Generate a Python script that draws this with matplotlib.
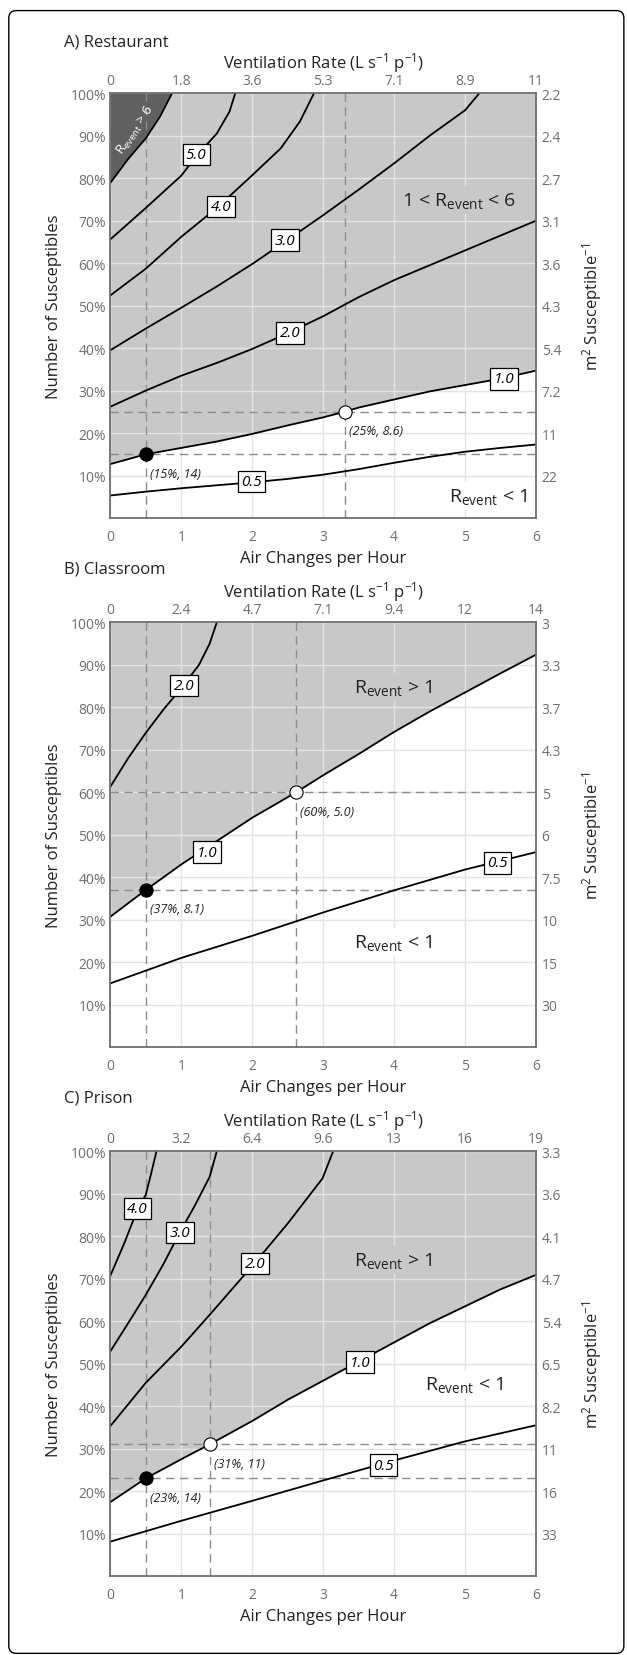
import numpy as np
import matplotlib.pyplot as plt
from matplotlib.patches import FancyBboxPatch

plt.rcParams['font.family'] = ['Open Sans', 'DejaVu Sans']
plt.rcParams['mathtext.fontset'] = 'custom'
plt.rcParams['mathtext.rm'] = 'Open Sans'
plt.rcParams['mathtext.it'] = 'Open Sans:italic'

# ---- shared axes data ----
ach_ticks = [0, 1, 2, 3, 4, 5, 6]
pct_ticks = [0.1, 0.2, 0.3, 0.4, 0.5, 0.6, 0.7, 0.8, 0.9, 1.0]
pct_labels = ["10%", "20%", "30%", "40%", "50%", "60%", "70%", "80%", "90%", "100%"]

# ---- A) Restaurant ----
rest_vent_labels = ["0", "1.8", "3.6", "5.3", "7.1", "8.9", "11"]
rest_area_labels = ["22", "11", "7.2", "5.4", "4.3", "3.6", "3.1", "2.7", "2.4", "2.2"]
rest_levels = ["5.0", "4.0", "3.0", "2.0", "1.0", "0.5"]
rest_curve_x = [
    [0, 0.5, 1.0, 1.21, 1.5, 1.68, 1.76],
    [0, 0.5, 1.0, 1.5, 2.0, 2.4, 2.67, 2.87],
    [0, 0.5, 1.0, 1.5, 2.0, 2.5, 3.0, 3.5, 4.0, 4.5, 5.0, 5.2],
    [0, 0.5, 1.0, 1.5, 2.0, 2.5, 3.0, 3.5, 4.0, 4.5, 5.0, 5.5, 6.0],
    [0, 0.5, 1.0, 1.5, 2.0, 2.5, 3.0, 3.3, 3.5, 4.0, 4.5, 5.0, 5.5, 6.0],
    [0, 0.5, 1.0, 1.5, 2.0, 2.5, 3.0, 3.5, 4.0, 4.5, 5.0, 5.5, 6.0],
]
rest_curve_y = [
    [0.656, 0.73, 0.806, 0.852, 0.905, 0.957, 1.0],
    [0.524, 0.587, 0.662, 0.73, 0.807, 0.87, 0.933, 1.0],
    [0.395, 0.446, 0.495, 0.545, 0.598, 0.655, 0.713, 0.773, 0.835, 0.90, 0.96, 1.0],
    [0.262, 0.30, 0.335, 0.365, 0.398, 0.435, 0.475, 0.52, 0.56, 0.595, 0.63, 0.665, 0.70],
    [0.127, 0.15, 0.165, 0.18, 0.198, 0.218, 0.237, 0.25, 0.26, 0.279, 0.298, 0.313, 0.328, 0.347],
    [0.053, 0.062, 0.07, 0.077, 0.084, 0.092, 0.102, 0.115, 0.13, 0.144, 0.156, 0.165, 0.173],
]
rest_dark_x = [0, 0.25, 0.5, 0.7, 0.87]
rest_dark_y = [0.789, 0.845, 0.894, 0.945, 1.0]
rest_pts_x = [0.5, 3.3]
rest_pts_y = [0.15, 0.25]
rest_pts_text = ["(15%, 14)", "(25%, 8.6)"]

# ---- B) Classroom ----
class_vent_labels = ["0", "2.4", "4.7", "7.1", "9.4", "12", "14"]
class_area_labels = ["30", "15", "10", "7.5", "6", "5", "4.3", "3.7", "3.3", "3"]
class_levels = ["2.0", "1.0", "0.5"]
class_curve_x = [
    [0, 0.25, 0.5, 0.75, 1.0, 1.25, 1.4, 1.5],
    [0, 0.5, 1.0, 1.5, 2.0, 2.62, 3.0, 3.5, 4.0, 4.5, 5.0, 5.5, 6.0],
    [0, 1, 2, 3, 4, 5, 6],
]
class_curve_y = [
    [0.613, 0.68, 0.74, 0.795, 0.845, 0.90, 0.95, 1.0],
    [0.307, 0.37, 0.43, 0.485, 0.54, 0.60, 0.64, 0.69, 0.742, 0.79, 0.835, 0.88, 0.924],
    [0.150, 0.21, 0.262, 0.317, 0.369, 0.418, 0.459],
]
class_pts_x = [0.5, 2.62]
class_pts_y = [0.37, 0.60]
class_pts_text = ["(37%, 8.1)", "(60%, 5.0)"]

# ---- C) Prison ----
pris_vent_labels = ["0", "3.2", "6.4", "9.6", "13", "16", "19"]
pris_area_labels = ["33", "16", "11", "8.2", "6.5", "5.4", "4.7", "4.1", "3.6", "3.3"]
pris_levels = ["4.0", "3.0", "2.0", "1.0", "0.5"]
pris_curve_x = [
    [0, 0.2, 0.38, 0.5, 0.58, 0.65],
    [0, 0.25, 0.5, 0.75, 0.98, 1.2, 1.4, 1.5],
    [0, 0.25, 0.5, 1.0, 1.4, 2.0, 2.5, 2.99, 3.14],
    [0, 0.5, 1.0, 1.4, 2.0, 2.5, 3.0, 3.5, 4.0, 4.5, 5.0, 5.5, 6.0],
    [0, 1, 2, 3, 4, 5, 6],
]
pris_curve_y = [
    [0.707, 0.785, 0.862, 0.898, 0.951, 1.0],
    [0.529, 0.595, 0.662, 0.735, 0.809, 0.875, 0.94, 1.0],
    [0.353, 0.404, 0.455, 0.54, 0.615, 0.73, 0.83, 0.936, 1.0],
    [0.174, 0.23, 0.275, 0.31, 0.365, 0.415, 0.46, 0.505, 0.55, 0.595, 0.635, 0.675, 0.709],
    [0.081, 0.13, 0.177, 0.225, 0.272, 0.317, 0.355],
]
pris_pts_x = [0.5, 1.4]
pris_pts_y = [0.23, 0.31]
pris_pts_text = ["(23%, 14)", "(31%, 11)"]

GREY = "#c8c8c8"
DARK = "#606060"
AXC = "#6e6e6e"

fig = plt.figure(figsize=(6.27, 16.56), dpi=100)
fig.add_artist(FancyBboxPatch((0.014, 0.001), 0.981, 0.992,
                              boxstyle="round,pad=0,rounding_size=0.012",
                              transform=fig.transFigure, fc="none", ec="black", lw=1,
                              mutation_aspect=0.38))


def draw_panel(bottom, title, title_y, levels, cx, cy, label_pos, vent_labels,
               area_labels, pts_x, pts_y, pts_text, regions, dark=None):
    ax = fig.add_axes([0.176, bottom, 0.679, 0.2565])
    ax.set_xlim(0, 6)
    ax.set_ylim(0, 1)

    # shaded R > 1 region above the 1.0 contour
    i1 = levels.index("1.0")
    ax.fill_between(cx[i1], cy[i1], 1, color=GREY, lw=0, zorder=1)
    if dark is not None:
        ax.fill_between(dark[0], dark[1], 1, color=DARK, lw=0, zorder=1.6)
        ax.plot(dark[0], dark[1], color="black", lw=1.2, zorder=3)
        ax.text(0.36, 0.915, "R$_{\\mathrm{event}}$ > 6", color="white", fontsize=9.5,
                rotation=56, ha="center", va="center", zorder=6)

    ax.set_xticks(ach_ticks)
    ax.set_yticks(pct_ticks)
    ax.set_yticklabels(pct_labels)
    ax.grid(True, color="#e4e4e4", lw=1)
    for g in ax.get_xgridlines() + ax.get_ygridlines():
        g.set_zorder(1.5)

    for x0 in pts_x:
        ax.axvline(x0, color="#8c8c8c", lw=1, ls=(0, (6, 4)), zorder=2)
    for y0 in pts_y:
        ax.axhline(y0, color="#8c8c8c", lw=1, ls=(0, (6, 4)), zorder=2)

    for lev, x, y, (lx, ly) in zip(levels, cx, cy, label_pos):
        ax.plot(x, y, color="black", lw=1.3, zorder=3, solid_joinstyle="round")
        ax.text(lx, ly, lev, fontsize=11, style="italic", ha="center", va="center",
                zorder=5, bbox=dict(boxstyle="square,pad=0.22", fc="white", ec="black", lw=0.9))

    for k, (x0, y0, t) in enumerate(zip(pts_x, pts_y, pts_text)):
        ax.plot(x0, y0, "o", ms=9.5, mfc="black" if k == 0 else "white",
                mec="black", mew=0.8, zorder=6)
        ax.annotate(t, (x0, y0), xytext=(3, -9), textcoords="offset points",
                    fontsize=9, style="italic", ha="left", va="top", color="#222222", zorder=6)

    for (tx, ty, t, bg) in regions:
        ax.text(tx, ty, t, fontsize=14, ha="center", va="center", color="#222222", zorder=4,
                bbox=dict(boxstyle="square,pad=0.2", fc=bg, ec="none"))

    for s in ax.spines.values():
        s.set_color(AXC)
        s.set_linewidth(1.3)
        s.set_zorder(7)
    ax.tick_params(length=0, labelsize=10, labelcolor=AXC)
    ax.tick_params(axis="x", pad=8)
    ax.tick_params(axis="y", pad=3)
    ax.set_xlabel("Air Changes per Hour", fontsize=12, color="#222222", labelpad=4)
    ax.set_ylabel("Number of Susceptibles", fontsize=12, color="#222222")
    ax.yaxis.set_label_coords(-0.113, 0.5)

    top = ax.twiny()
    top.set_xlim(0, 6)
    top.set_xticks(ach_ticks)
    top.set_xticklabels(vent_labels)
    top.tick_params(length=0, labelsize=10, labelcolor=AXC, pad=4)
    top.set_xlabel("Ventilation Rate (L s$^{-1}$ p$^{-1}$)", fontsize=12,
                   color="#222222", labelpad=4)

    right = ax.twinx()
    right.set_ylim(0, 1)
    right.set_yticks(pct_ticks)
    right.set_yticklabels(area_labels)
    right.tick_params(length=0, labelsize=10, labelcolor=AXC, pad=4)
    right.set_ylabel("m$^2$ Susceptible$^{-1}$", fontsize=12, color="#222222")
    right.yaxis.set_label_coords(1.103, 0.5)
    for a in (top, right):
        for s in a.spines.values():
            s.set_visible(False)

    fig.text(0.102, title_y, title, fontsize=12, ha="left", va="center", color="#222222")
    return ax


draw_panel(0.6866, "A) Restaurant", 0.9746, rest_levels, rest_curve_x, rest_curve_y,
           [(1.21, 0.856), (1.56, 0.733), (2.46, 0.654), (2.53, 0.436), (5.55, 0.328), (1.99, 0.086)],
           rest_vent_labels, rest_area_labels, rest_pts_x, rest_pts_y, rest_pts_text,
           [(4.92, 0.748, "1 < R$_{\\mathrm{event}}$ < 6", GREY),
            (5.32, 0.052, "R$_{\\mathrm{event}}$ < 1", "white")],
           dark=(rest_dark_x, rest_dark_y))

draw_panel(0.3671, "B) Classroom", 0.6558, class_levels, class_curve_x, class_curve_y,
           [(1.04, 0.851), (1.36, 0.459), (5.46, 0.434)],
           class_vent_labels, class_area_labels, class_pts_x, class_pts_y, class_pts_text,
           [(3.99, 0.848, "R$_{\\mathrm{event}}$ > 1", GREY),
            (3.99, 0.247, "R$_{\\mathrm{event}}$ < 1", "white")])

draw_panel(0.0477, "C) Prison", 0.3364, pris_levels, pris_curve_x, pris_curve_y,
           [(0.38, 0.865), (0.98, 0.809), (2.04, 0.736), (3.52, 0.503), (3.85, 0.261)],
           pris_vent_labels, pris_area_labels, pris_pts_x, pris_pts_y, pris_pts_text,
           [(3.99, 0.744, "R$_{\\mathrm{event}}$ > 1", GREY),
            (4.98, 0.451, "R$_{\\mathrm{event}}$ < 1", "white")])

fig.savefig("out.png", dpi=100)
